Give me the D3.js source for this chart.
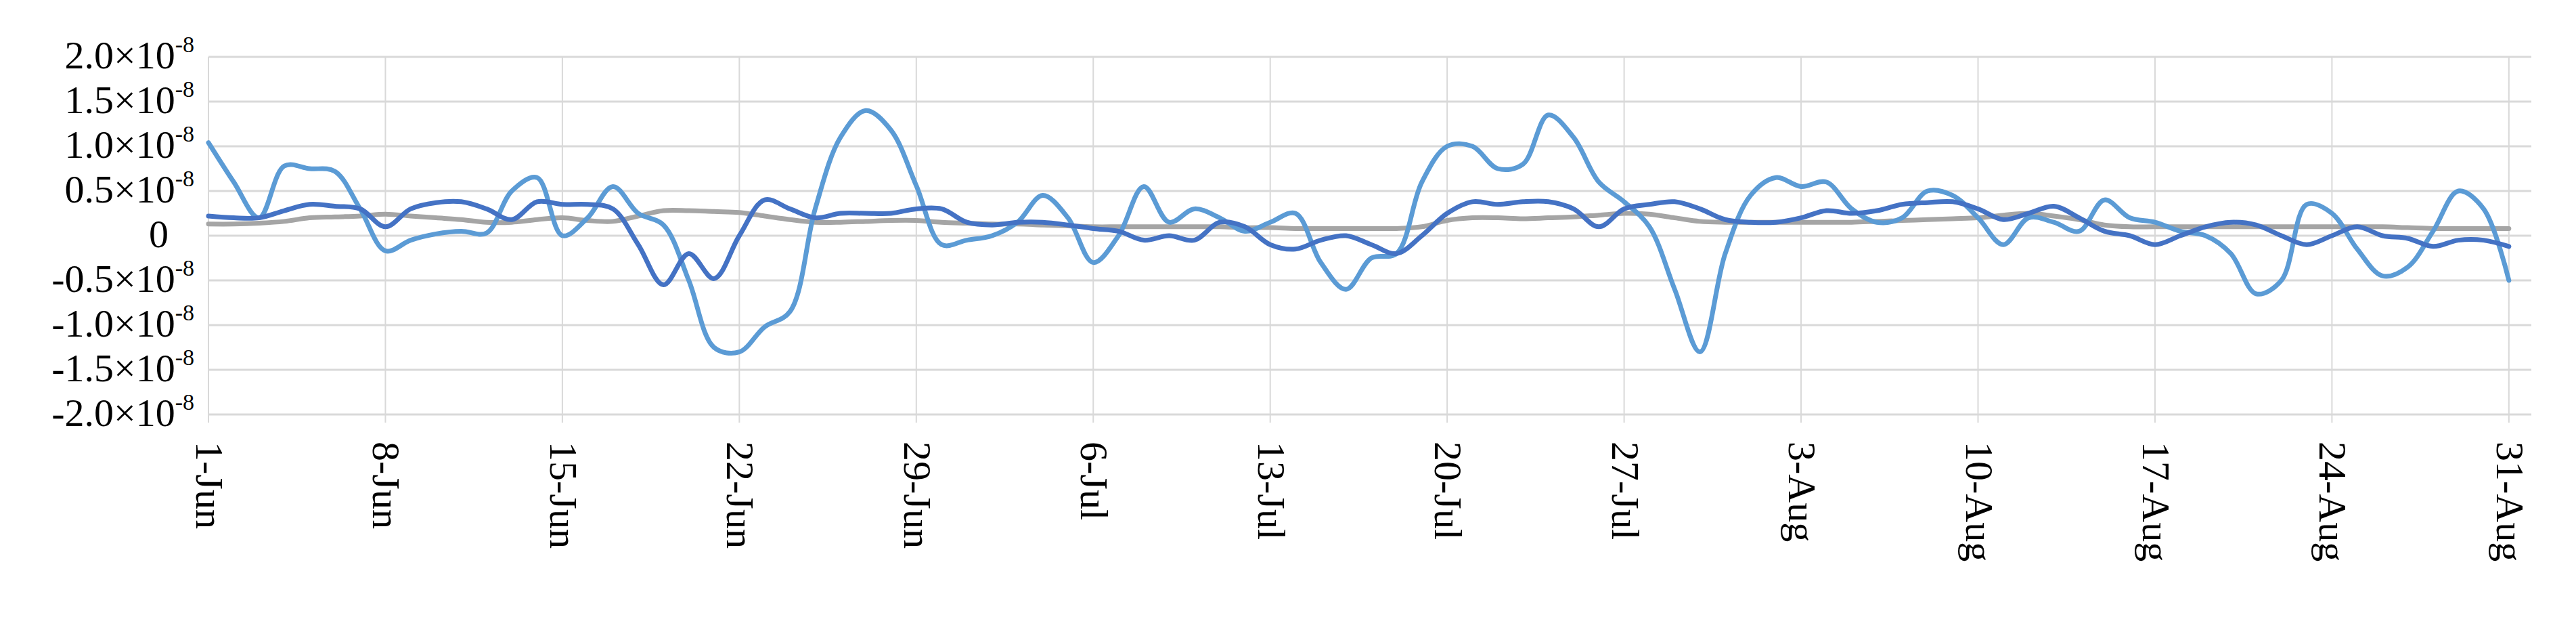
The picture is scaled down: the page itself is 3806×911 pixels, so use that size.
<!DOCTYPE html>
<html><head><meta charset="utf-8">
<script src="https://cdn.jsdelivr.net/npm/d3@7"></script>
<style>body{margin:0;background:#fff}text{font-family:"Liberation Serif","Times New Roman",serif}</style>
</head><body><svg id="c" width="3806" height="911"></svg>
<script>
const startDate = new Date(2020,5,1);
const lightBlue = [1.04,0.6,0.2,0.78,0.75,0.72,0.3,-0.17,-0.05,0.02,0.05,0.03,0.5,0.65,0.0,0.2,0.55,0.25,0.12,-0.5,-1.25,-1.3,-1.02,-0.85,0.3,1.1,1.4,1.18,0.56,-0.1,-0.05,0.0,0.15,0.45,0.2,-0.3,0.0,0.55,0.15,0.3,0.2,0.05,0.15,0.25,-0.3,-0.6,-0.25,-0.2,0.6,1.0,1.0,0.75,0.8,1.35,1.1,0.6,0.38,0.1,-0.6,-1.3,-0.2,0.45,0.65,0.55,0.6,0.3,0.15,0.2,0.5,0.45,0.2,-0.1,0.2,0.15,0.05,0.4,0.2,0.15,0.05,0.0,-0.2,-0.65,-0.5,0.35,0.25,-0.15,-0.45,-0.35,0.05,0.5,0.3,-0.5];
const darkBlue = [0.22,0.2,0.2,0.28,0.35,0.33,0.3,0.1,0.3,0.37,0.38,0.3,0.18,0.38,0.35,0.35,0.3,-0.1,-0.55,-0.2,-0.48,0.0,0.4,0.3,0.2,0.25,0.25,0.25,0.3,0.3,0.15,0.12,0.15,0.15,0.12,0.08,0.05,-0.05,0.0,-0.05,0.15,0.1,-0.1,-0.15,-0.05,0.0,-0.1,-0.2,0.0,0.25,0.38,0.35,0.38,0.38,0.3,0.1,0.3,0.35,0.38,0.3,0.18,0.15,0.15,0.2,0.28,0.25,0.28,0.35,0.37,0.38,0.3,0.18,0.25,0.33,0.2,0.05,0.0,-0.1,0.0,0.1,0.15,0.12,0.0,-0.1,0.0,0.1,0.0,-0.03,-0.12,-0.05,-0.05,-0.12];
const gray = [0.13,0.13,0.14,0.16,0.2,0.21,0.22,0.24,0.22,0.2,0.18,0.15,0.15,0.18,0.2,0.17,0.16,0.22,0.28,0.28,0.27,0.26,0.22,0.18,0.15,0.15,0.16,0.17,0.17,0.15,0.14,0.13,0.13,0.12,0.11,0.1,0.1,0.1,0.1,0.1,0.1,0.09,0.09,0.08,0.08,0.08,0.08,0.08,0.1,0.17,0.2,0.2,0.19,0.2,0.21,0.23,0.25,0.24,0.2,0.16,0.15,0.15,0.15,0.15,0.15,0.15,0.16,0.17,0.18,0.19,0.2,0.23,0.25,0.22,0.18,0.12,0.1,0.1,0.1,0.1,0.1,0.1,0.1,0.1,0.1,0.1,0.1,0.09,0.08,0.08,0.08,0.08];
const yTicks = [2.0,1.5,1.0,0.5,0,-0.5,-1.0,-1.5,-2.0];
const xTickDays = [0,7,14,21,28,35,42,49,56,63,70,77,84,91];
const xTickLabels = ["1-Jun","8-Jun","15-Jun","22-Jun","29-Jun","6-Jul","13-Jul","20-Jul","27-Jul","3-Aug","10-Aug","17-Aug","24-Aug","31-Aug"];

const svg = d3.select("#c");
const L=308, R=3740, T=84, B=612;
const x = d3.scaleLinear().domain([0,91]).range([L,L+91*37.35]);
const y = d3.scaleLinear().domain([-2,2]).range([B,T]);
const g = svg.append("g");
g.selectAll(".hg").data(yTicks).join("line").attr("x1",L).attr("x2",R)
 .attr("y1",d=>y(d)).attr("y2",d=>y(d)).attr("stroke","#d9d9d9").attr("stroke-width",3);
g.selectAll(".vg").data(xTickDays).join("line").attr("y1",T).attr("y2",B+12)
 .attr("x1",d=>x(d)).attr("x2",d=>x(d)).attr("stroke","#d9d9d9").attr("stroke-width",2);
const yl = g.selectAll(".yl").data(yTicks).join("text").attr("x",249).attr("y",d=>y(d)+17)
 .attr("text-anchor","end").attr("font-size",58).attr("fill","#000");
yl.each(function(d){
  const t=d3.select(this);
  if(d===0){t.text("0");return;}
  t.append("tspan").text(d.toFixed(1)+"×10");
  t.append("tspan").attr("dy",-24).attr("font-size",34).text("-8");
});
yl.filter(d=>d!==0).attr("x",287);
g.selectAll(".xl").data(xTickDays).join("text")
 .attr("transform",d=>`translate(${x(d)-18},${B+40}) rotate(90)`)
 .attr("font-size",58).attr("fill","#000").text((d,i)=>xTickLabels[i]);
const line = d3.line().x((d,i)=>x(i)).y(d=>y(d)).curve(d3.curveCatmullRom.alpha(0.5));
[[gray,"#a5a5a5"],[lightBlue,"#5b9bd5"],[darkBlue,"#4472c4"]].forEach(([s,c])=>{
  g.append("path").datum(s).attr("d",line).attr("fill","none").attr("stroke",c)
   .attr("stroke-width",7).attr("stroke-linejoin","round").attr("stroke-linecap","round");
});
</script></body></html>
